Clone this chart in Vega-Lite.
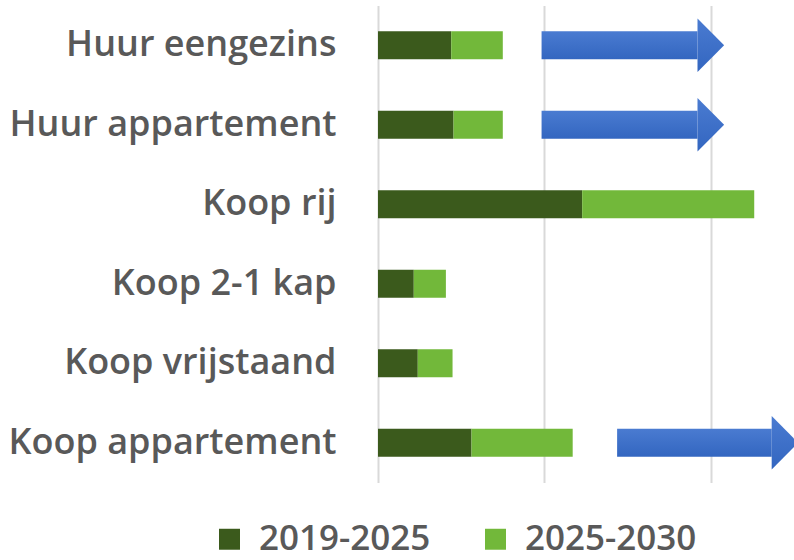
{
  "$schema": "https://vega.github.io/schema/vega-lite/v6.json",
  "autosize": {"type": "none"},
  "width": 416,
  "height": 477,
  "padding": {"left": 378, "top": 5.5, "right": 0, "bottom": 77.5},
  "background": "white",
  "config": {"view": {"stroke": null}},
  "datasets": {
    "bars": [
      {"category": "Huur eengezins", "period": "2019-2025", "value": 44},
      {"category": "Huur eengezins", "period": "2025-2030", "value": 31},
      {"category": "Huur appartement", "period": "2019-2025", "value": 45.4},
      {"category": "Huur appartement", "period": "2025-2030", "value": 29.6},
      {"category": "Koop rij", "period": "2019-2025", "value": 122.7},
      {"category": "Koop rij", "period": "2025-2030", "value": 103.4},
      {"category": "Koop 2-1 kap", "period": "2019-2025", "value": 21.5},
      {"category": "Koop 2-1 kap", "period": "2025-2030", "value": 19.3},
      {"category": "Koop vrijstaand", "period": "2019-2025", "value": 23.9},
      {"category": "Koop vrijstaand", "period": "2025-2030", "value": 20.9},
      {"category": "Koop appartement", "period": "2019-2025", "value": 56.2},
      {"category": "Koop appartement", "period": "2025-2030", "value": 60.8}
    ],
    "arrows": [
      {"category": "Huur eengezins", "start": 98.3, "head": 192},
      {"category": "Huur appartement", "start": 98.3, "head": 192},
      {"category": "Koop appartement", "start": 143.7, "head": 236.6}
    ]
  },
  "encoding": {
    "y": {
      "field": "category",
      "type": "nominal",
      "sort": ["Huur eengezins", "Huur appartement", "Koop rij", "Koop 2-1 kap", "Koop vrijstaand", "Koop appartement"],
      "scale": {"paddingInner": 0.648, "paddingOuter": 0.324},
      "axis": {
        "title": null, "domain": false, "ticks": false, "grid": false,
        "labelFont": "Open Sans", "labelFontSize": 36, "labelFontWeight": 600, "labelColor": "#595959",
        "labelPadding": 42, "labelLimit": 400
      }
    }
  },
  "layer": [
    {
      "data": {"name": "bars"},
      "mark": {"type": "bar"},
      "encoding": {
        "x": {
          "field": "value", "type": "quantitative", "stack": "zero",
          "scale": {"domain": [0, 250], "nice": false},
          "axis": {
            "title": null, "labels": false, "ticks": false, "domain": false,
            "grid": true, "values": [0, 100, 200],
            "gridColor": "#D9D9D9", "gridWidth": 2
          }
        },
        "color": {
          "field": "period", "type": "nominal",
          "scale": {"domain": ["2019-2025", "2025-2030"], "range": ["#3B5A1C", "#72B83A"]},
          "legend": {
            "title": null, "orient": "none", "direction": "horizontal",
            "legendX": -166, "legendY": 516,
            "symbolType": "square", "symbolSize": 440, "symbolStrokeWidth": 0,
            "labelFont": "Open Sans", "labelFontSize": 35, "labelFontWeight": 600, "labelColor": "#595959",
            "labelOffset": 12, "labelLimit": 300, "columnPadding": 47, "symbolOpacity": 1
          }
        },
        "order": {"field": "period", "sort": "ascending"}
      }
    },
    {
      "data": {"name": "arrows"},
      "mark": {
        "type": "bar", "height": 28,
        "color": {"gradient": "linear", "x1": 0, "y1": 0, "x2": 0, "y2": 1,
          "stops": [{"offset": 0, "color": "#4A7BD1"}, {"offset": 1, "color": "#3366C0"}]}
      },
      "encoding": {
        "x": {"field": "start", "type": "quantitative"},
        "x2": {"field": "head"}
      }
    },
    {
      "data": {"name": "arrows"},
      "mark": {
        "type": "point", "shape": "M0,-1L1,0L0,1Z", "size": 2840, "filled": true, "opacity": 1,
        "color": {"gradient": "linear", "x1": 0, "y1": 0, "x2": 0, "y2": 1,
          "stops": [{"offset": 0, "color": "#4A7BD1"}, {"offset": 1, "color": "#3366C0"}]}
      },
      "encoding": {
        "x": {"field": "head", "type": "quantitative"}
      }
    }
  ]
}
